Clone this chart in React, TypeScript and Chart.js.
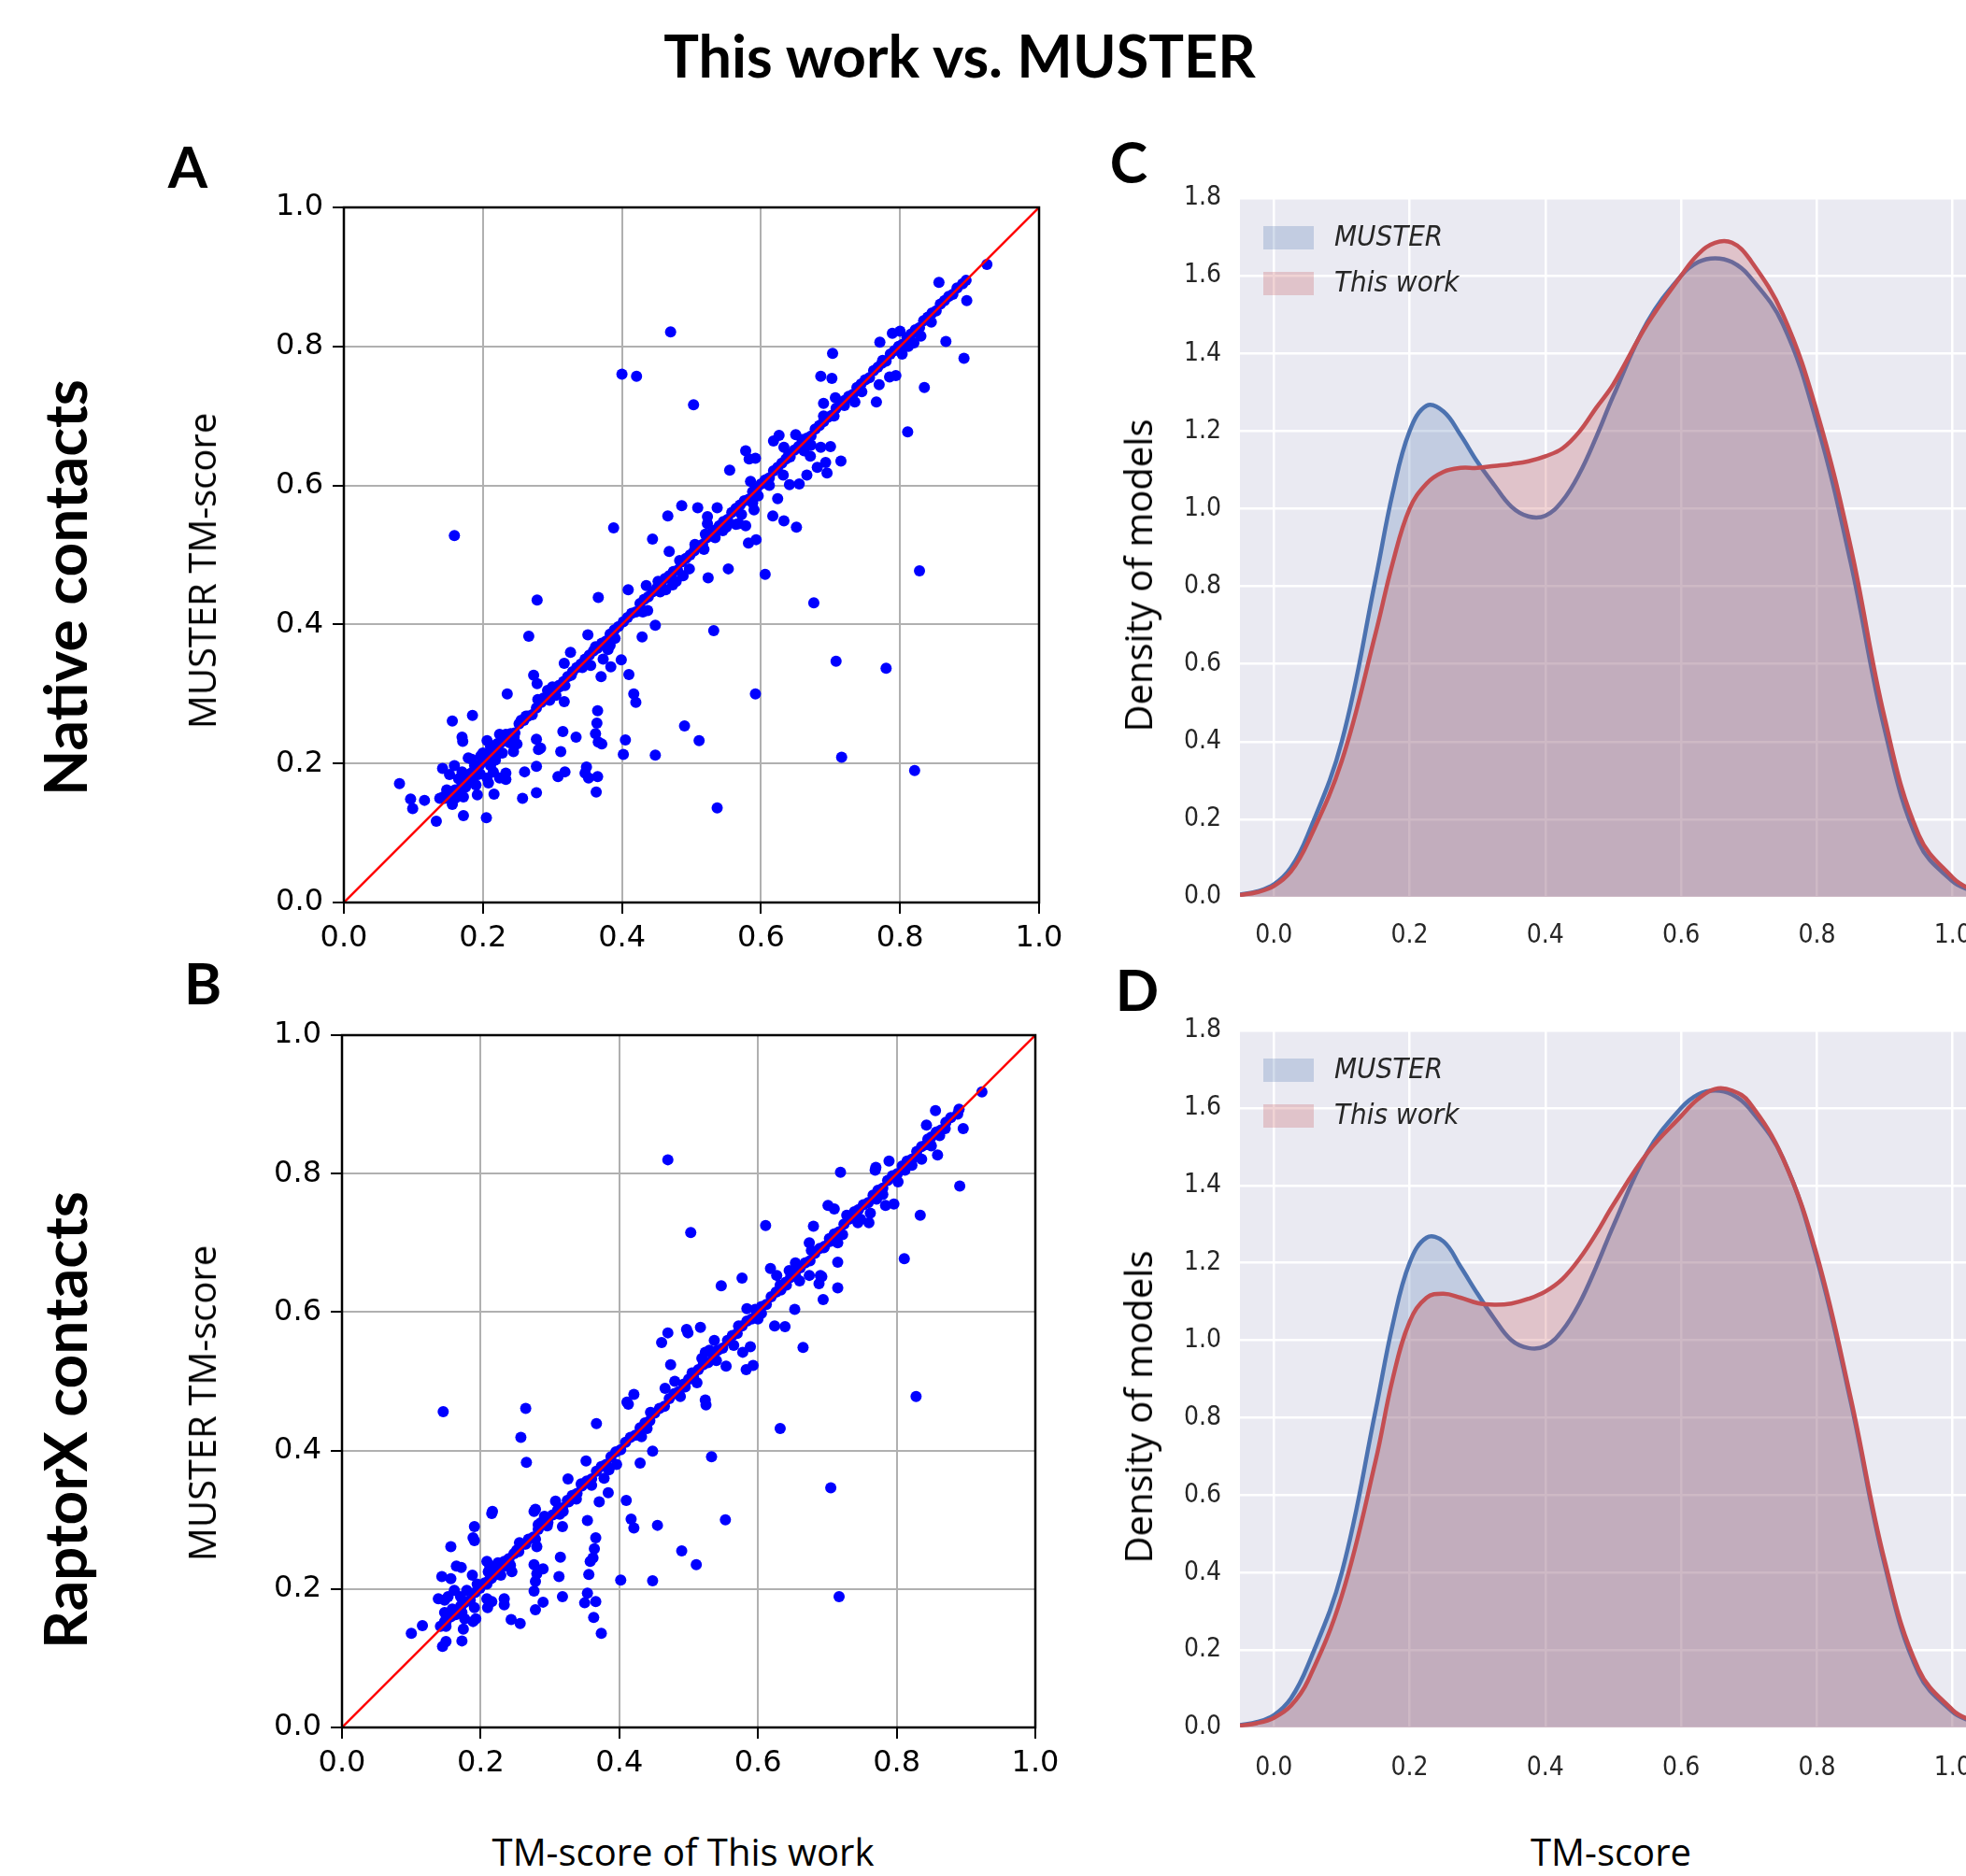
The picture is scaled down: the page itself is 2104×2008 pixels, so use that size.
import React, { useEffect, useRef } from "react";
import { Chart, registerables } from "chart.js";

Chart.register(...registerables);

// ---------------- text ----------------
const FIG_TITLE = "This work vs. MUSTER";
const ROW_LABELS = ["Native contacts", "RaptorX contacts"];
const SCATTER_X_TITLE = "TM-score of This work";
const SCATTER_Y_TITLE = "MUSTER TM-score";
const DENSITY_X_TITLE = "TM-score";
const DENSITY_Y_TITLE = "Density of models";
const SERIES_NAMES = ["MUSTER", "This work"];

// ---------------- scatter data: [TM-score of This work, MUSTER TM-score] ----------------
const diagonalLineX = [0, 1];
const diagonalLineY = [0, 1];

const panelAOffDiagonal: [number, number][] = [
  [0.080, 0.171], [0.096, 0.149], [0.099, 0.135], [0.116, 0.147], [0.133, 0.117], [0.138, 0.150], [0.143, 0.152],
  [0.148, 0.162], [0.150, 0.158], [0.156, 0.141], [0.160, 0.150], [0.165, 0.178], [0.166, 0.159], [0.172, 0.125],
  [0.172, 0.152], [0.175, 0.166], [0.176, 0.172], [0.186, 0.178], [0.190, 0.169], [0.192, 0.155], [0.196, 0.185],
  [0.205, 0.122], [0.142, 0.193], [0.152, 0.184], [0.159, 0.197], [0.170, 0.188], [0.179, 0.208], [0.184, 0.206],
  [0.188, 0.197], [0.193, 0.184], [0.197, 0.211], [0.200, 0.215], [0.206, 0.179], [0.206, 0.233], [0.208, 0.172],
  [0.211, 0.197], [0.211, 0.224], [0.215, 0.188], [0.216, 0.156], [0.218, 0.205], [0.220, 0.228], [0.224, 0.179],
  [0.224, 0.242], [0.225, 0.215], [0.228, 0.215], [0.229, 0.240], [0.233, 0.177], [0.233, 0.186], [0.233, 0.242],
  [0.238, 0.230], [0.244, 0.217], [0.245, 0.238], [0.249, 0.228], [0.257, 0.150], [0.260, 0.188], [0.277, 0.158],
  [0.277, 0.196], [0.156, 0.261], [0.159, 0.528], [0.170, 0.238], [0.171, 0.232], [0.185, 0.269], [0.235, 0.300],
  [0.266, 0.383], [0.278, 0.435], [0.273, 0.327], [0.278, 0.315], [0.277, 0.235], [0.279, 0.292], [0.280, 0.220],
  [0.283, 0.222], [0.287, 0.294], [0.293, 0.305], [0.296, 0.291], [0.308, 0.181], [0.309, 0.312], [0.312, 0.217],
  [0.315, 0.246], [0.317, 0.289], [0.317, 0.344], [0.318, 0.188], [0.318, 0.312], [0.326, 0.360], [0.327, 0.327],
  [0.334, 0.238], [0.347, 0.186], [0.349, 0.195], [0.351, 0.385], [0.352, 0.179], [0.355, 0.341], [0.362, 0.243],
  [0.363, 0.159], [0.364, 0.258], [0.365, 0.181], [0.365, 0.276], [0.366, 0.231], [0.366, 0.439], [0.370, 0.325],
  [0.371, 0.228], [0.373, 0.350], [0.384, 0.339], [0.388, 0.539], [0.399, 0.349], [0.400, 0.760], [0.402, 0.213],
  [0.405, 0.234], [0.409, 0.450], [0.410, 0.328], [0.417, 0.300], [0.420, 0.288], [0.421, 0.757], [0.429, 0.382],
  [0.435, 0.456], [0.444, 0.523], [0.448, 0.212], [0.448, 0.399], [0.466, 0.556], [0.470, 0.821], [0.486, 0.571],
  [0.490, 0.254], [0.503, 0.716], [0.509, 0.568], [0.511, 0.233], [0.523, 0.555], [0.524, 0.467], [0.532, 0.391],
  [0.534, 0.525], [0.537, 0.136], [0.537, 0.568], [0.553, 0.480], [0.555, 0.622], [0.564, 0.544], [0.578, 0.542],
  [0.578, 0.650], [0.582, 0.517], [0.583, 0.638], [0.585, 0.606], [0.592, 0.300], [0.592, 0.639], [0.593, 0.522],
  [0.606, 0.472], [0.617, 0.556], [0.618, 0.664], [0.624, 0.581], [0.626, 0.672], [0.633, 0.549], [0.633, 0.655],
  [0.641, 0.601], [0.650, 0.673], [0.651, 0.540], [0.655, 0.602], [0.659, 0.666], [0.666, 0.615], [0.671, 0.642],
  [0.676, 0.431], [0.681, 0.626], [0.686, 0.655], [0.686, 0.757], [0.690, 0.718], [0.693, 0.633], [0.695, 0.618],
  [0.700, 0.656], [0.702, 0.754], [0.703, 0.790], [0.707, 0.726], [0.708, 0.347], [0.715, 0.635], [0.716, 0.209],
  [0.766, 0.720], [0.771, 0.806], [0.780, 0.337], [0.785, 0.756], [0.789, 0.819], [0.794, 0.758], [0.800, 0.822],
  [0.803, 0.789], [0.811, 0.677], [0.821, 0.190], [0.828, 0.477], [0.835, 0.741], [0.856, 0.892], [0.866, 0.807],
  [0.890, 0.890], [0.892, 0.783], [0.895, 0.895], [0.896, 0.866], [0.925, 0.918],
];

const panelADiagonal: [number, number][] = [
  [0.145, 0.150], [0.152, 0.155], [0.160, 0.162], [0.168, 0.165], [0.176, 0.180], [0.183, 0.186], [0.190, 0.192],
  [0.196, 0.199], [0.203, 0.205], [0.210, 0.212], [0.218, 0.220], [0.226, 0.230], [0.232, 0.236], [0.240, 0.243],
  [0.246, 0.244], [0.252, 0.257], [0.259, 0.262], [0.265, 0.268], [0.271, 0.270], [0.277, 0.280], [0.284, 0.288],
  [0.290, 0.293], [0.297, 0.300], [0.303, 0.306], [0.310, 0.310], [0.316, 0.318], [0.322, 0.325], [0.329, 0.332],
  [0.335, 0.338], [0.341, 0.343], [0.347, 0.350], [0.353, 0.356], [0.359, 0.362], [0.365, 0.366], [0.371, 0.373],
  [0.377, 0.376], [0.383, 0.386], [0.389, 0.392], [0.395, 0.397], [0.402, 0.404], [0.408, 0.410], [0.414, 0.416],
  [0.420, 0.418], [0.426, 0.430], [0.432, 0.436], [0.438, 0.440], [0.444, 0.447], [0.450, 0.452], [0.456, 0.458],
  [0.462, 0.466], [0.468, 0.470], [0.474, 0.476], [0.480, 0.478], [0.486, 0.490], [0.492, 0.495], [0.498, 0.500],
  [0.504, 0.506], [0.510, 0.512], [0.516, 0.515], [0.522, 0.525], [0.528, 0.531], [0.534, 0.536], [0.540, 0.542],
  [0.546, 0.548], [0.552, 0.551], [0.558, 0.561], [0.564, 0.567], [0.570, 0.572], [0.576, 0.578], [0.582, 0.580],
  [0.588, 0.591], [0.594, 0.596], [0.600, 0.602], [0.606, 0.608], [0.612, 0.611], [0.618, 0.621], [0.624, 0.626],
  [0.630, 0.632], [0.636, 0.638], [0.642, 0.641], [0.648, 0.651], [0.654, 0.656], [0.660, 0.662], [0.666, 0.668],
  [0.672, 0.671], [0.678, 0.681], [0.684, 0.686], [0.690, 0.692], [0.696, 0.698], [0.702, 0.701], [0.708, 0.711],
  [0.714, 0.716], [0.720, 0.722], [0.726, 0.728], [0.732, 0.731], [0.738, 0.741], [0.744, 0.746], [0.750, 0.752],
  [0.756, 0.755], [0.762, 0.765], [0.768, 0.770], [0.774, 0.776], [0.780, 0.779], [0.786, 0.789], [0.792, 0.794],
  [0.798, 0.800], [0.804, 0.803], [0.810, 0.813], [0.816, 0.818], [0.822, 0.824], [0.828, 0.827], [0.834, 0.837],
  [0.840, 0.842], [0.846, 0.848], [0.852, 0.851], [0.858, 0.861], [0.864, 0.866], [0.870, 0.872], [0.876, 0.875],
  [0.882, 0.884],
  [0.468, 0.505], [0.483, 0.492], [0.488, 0.470], [0.478, 0.462], [0.497, 0.480], [0.505, 0.515], [0.520, 0.530],
  [0.523, 0.545], [0.518, 0.508], [0.545, 0.535], [0.550, 0.540], [0.572, 0.558], [0.568, 0.545], [0.590, 0.565],
  [0.588, 0.575], [0.596, 0.585], [0.612, 0.600], [0.632, 0.615], [0.640, 0.645], [0.662, 0.650], [0.672, 0.658],
  [0.690, 0.700], [0.705, 0.700], [0.720, 0.715], [0.735, 0.720], [0.745, 0.735], [0.770, 0.745], [0.775, 0.780],
  [0.812, 0.800], [0.820, 0.805], [0.830, 0.815], [0.845, 0.835], [0.437, 0.420], [0.430, 0.418], [0.452, 0.462],
  [0.455, 0.447], [0.463, 0.450], [0.473, 0.457], [0.380, 0.364], [0.383, 0.370], [0.390, 0.380], [0.362, 0.368],
  [0.343, 0.338], [0.300, 0.310], [0.305, 0.298], [0.262, 0.268], [0.255, 0.262],
];

const panelBOffDiagonal: [number, number][] = [
  [0.100, 0.136], [0.116, 0.147], [0.145, 0.117], [0.150, 0.124], [0.173, 0.125], [0.139, 0.186], [0.148, 0.184],
  [0.153, 0.189], [0.162, 0.198], [0.171, 0.189], [0.180, 0.198], [0.195, 0.207], [0.173, 0.166], [0.177, 0.157],
  [0.175, 0.142], [0.189, 0.153], [0.193, 0.157], [0.191, 0.173], [0.173, 0.177], [0.159, 0.171], [0.148, 0.166],
  [0.148, 0.153], [0.150, 0.146], [0.144, 0.218], [0.157, 0.215], [0.165, 0.233], [0.172, 0.231], [0.188, 0.220],
  [0.157, 0.261], [0.189, 0.274], [0.191, 0.270], [0.191, 0.290], [0.146, 0.456], [0.209, 0.240], [0.213, 0.234],
  [0.220, 0.229], [0.225, 0.238], [0.229, 0.220], [0.216, 0.216], [0.209, 0.207], [0.211, 0.225], [0.210, 0.173],
  [0.216, 0.182], [0.209, 0.186], [0.234, 0.186], [0.234, 0.177], [0.244, 0.156], [0.257, 0.150], [0.217, 0.312],
  [0.216, 0.309], [0.243, 0.234], [0.245, 0.225], [0.234, 0.240], [0.240, 0.243], [0.256, 0.267], [0.265, 0.265],
  [0.252, 0.256], [0.279, 0.272], [0.281, 0.261], [0.265, 0.461], [0.258, 0.419], [0.266, 0.383], [0.277, 0.235],
  [0.290, 0.229], [0.281, 0.222], [0.279, 0.211], [0.277, 0.197], [0.290, 0.181], [0.279, 0.170], [0.279, 0.315],
  [0.277, 0.312], [0.292, 0.305], [0.287, 0.296], [0.296, 0.291], [0.283, 0.293], [0.308, 0.327], [0.327, 0.326],
  [0.319, 0.312], [0.314, 0.308], [0.318, 0.290], [0.313, 0.218], [0.315, 0.246], [0.318, 0.189], [0.326, 0.359],
  [0.352, 0.385], [0.354, 0.299], [0.354, 0.194], [0.350, 0.180], [0.356, 0.221], [0.358, 0.240], [0.362, 0.245],
  [0.364, 0.258], [0.366, 0.274], [0.366, 0.182], [0.363, 0.159], [0.374, 0.136], [0.371, 0.326], [0.384, 0.339],
  [0.367, 0.439], [0.402, 0.213], [0.410, 0.328], [0.417, 0.301], [0.421, 0.288], [0.430, 0.382], [0.411, 0.470],
  [0.413, 0.467], [0.421, 0.481], [0.448, 0.399], [0.448, 0.212], [0.455, 0.292], [0.490, 0.255], [0.511, 0.235],
  [0.533, 0.391], [0.553, 0.300], [0.461, 0.556], [0.470, 0.570], [0.470, 0.820], [0.474, 0.524], [0.497, 0.575],
  [0.499, 0.570], [0.503, 0.715], [0.517, 0.578], [0.519, 0.533], [0.524, 0.542], [0.524, 0.473], [0.525, 0.466],
  [0.537, 0.559], [0.547, 0.638], [0.554, 0.522], [0.577, 0.649], [0.578, 0.542], [0.583, 0.517], [0.584, 0.605],
  [0.589, 0.550], [0.593, 0.523], [0.596, 0.604], [0.611, 0.725], [0.624, 0.580], [0.632, 0.432], [0.639, 0.579],
  [0.653, 0.604], [0.665, 0.549], [0.680, 0.724], [0.688, 0.641], [0.690, 0.653], [0.692, 0.651], [0.694, 0.618],
  [0.701, 0.754], [0.705, 0.346], [0.710, 0.749], [0.715, 0.672], [0.715, 0.635], [0.717, 0.189], [0.719, 0.802],
  [0.769, 0.805], [0.770, 0.809], [0.784, 0.754], [0.789, 0.818], [0.796, 0.756], [0.802, 0.788], [0.811, 0.677],
  [0.828, 0.478], [0.834, 0.740], [0.836, 0.821], [0.843, 0.870], [0.856, 0.891], [0.859, 0.827], [0.888, 0.886],
  [0.890, 0.893], [0.891, 0.782], [0.896, 0.865], [0.923, 0.918],
];

const panelBDiagonal: [number, number][] = [
  [0.142, 0.146], [0.150, 0.152], [0.157, 0.160], [0.164, 0.163], [0.171, 0.175], [0.178, 0.181], [0.185, 0.184],
  [0.192, 0.195], [0.199, 0.201], [0.206, 0.209], [0.213, 0.214], [0.220, 0.223], [0.227, 0.230], [0.234, 0.233],
  [0.241, 0.244], [0.248, 0.251], [0.255, 0.254], [0.262, 0.265], [0.269, 0.272], [0.276, 0.275], [0.283, 0.286],
  [0.290, 0.293], [0.297, 0.296], [0.304, 0.307], [0.311, 0.314], [0.318, 0.317], [0.325, 0.328], [0.332, 0.335],
  [0.339, 0.338], [0.346, 0.349], [0.353, 0.356], [0.360, 0.359], [0.367, 0.370], [0.374, 0.377], [0.381, 0.380],
  [0.388, 0.391], [0.395, 0.398], [0.402, 0.401], [0.409, 0.412], [0.416, 0.419], [0.423, 0.422], [0.430, 0.433],
  [0.437, 0.440], [0.444, 0.443], [0.451, 0.454], [0.458, 0.461], [0.465, 0.464], [0.472, 0.475], [0.479, 0.482],
  [0.486, 0.485], [0.493, 0.496], [0.500, 0.503], [0.507, 0.506], [0.514, 0.517], [0.521, 0.524], [0.528, 0.527],
  [0.535, 0.538], [0.542, 0.545], [0.549, 0.548], [0.556, 0.559], [0.563, 0.566], [0.570, 0.569], [0.577, 0.580],
  [0.584, 0.587], [0.591, 0.590], [0.598, 0.601], [0.605, 0.608], [0.612, 0.611], [0.619, 0.622], [0.626, 0.629],
  [0.633, 0.632], [0.640, 0.643], [0.647, 0.650], [0.654, 0.653], [0.661, 0.664], [0.668, 0.671], [0.675, 0.674],
  [0.682, 0.685], [0.689, 0.692], [0.696, 0.695], [0.703, 0.706], [0.710, 0.713], [0.717, 0.716], [0.724, 0.727],
  [0.731, 0.734], [0.738, 0.737], [0.745, 0.748], [0.752, 0.755], [0.759, 0.758], [0.766, 0.769], [0.773, 0.776],
  [0.780, 0.779], [0.787, 0.790], [0.794, 0.797], [0.801, 0.800], [0.808, 0.811], [0.815, 0.818], [0.822, 0.821],
  [0.829, 0.832], [0.836, 0.839], [0.843, 0.842], [0.850, 0.853], [0.857, 0.860], [0.864, 0.863], [0.871, 0.874],
  [0.878, 0.881],
  [0.674, 0.700], [0.677, 0.689], [0.695, 0.693], [0.704, 0.702], [0.713, 0.707], [0.715, 0.700], [0.674, 0.653],
  [0.654, 0.671], [0.650, 0.657], [0.641, 0.639], [0.632, 0.639], [0.627, 0.653], [0.618, 0.663], [0.780, 0.770],
  [0.771, 0.763], [0.762, 0.743], [0.760, 0.729], [0.748, 0.734], [0.739, 0.745], [0.744, 0.729], [0.466, 0.490],
  [0.480, 0.500], [0.488, 0.478], [0.495, 0.492], [0.505, 0.512], [0.512, 0.498], [0.530, 0.545], [0.540, 0.530],
  [0.565, 0.552], [0.572, 0.580], [0.600, 0.590], [0.605, 0.598], [0.645, 0.660], [0.660, 0.645], [0.722, 0.712],
  [0.728, 0.740], [0.812, 0.805], [0.822, 0.812], [0.845, 0.850], [0.850, 0.840], [0.862, 0.855], [0.870, 0.865],
  [0.440, 0.432], [0.445, 0.455], [0.432, 0.420], [0.396, 0.380], [0.385, 0.372], [0.378, 0.360], [0.360, 0.350],
  [0.345, 0.352], [0.338, 0.330],
];

// ---------------- density (KDE) data ----------------
const densityX = [
  -0.05, -0.025, 0.0, 0.025, 0.05, 0.1, 0.15, 0.175, 0.2, 0.225, 0.25, 0.275, 0.3, 0.325, 0.35, 0.375, 0.4, 0.425,
  0.45, 0.475, 0.5, 0.55, 0.6, 0.625, 0.65, 0.675, 0.7, 0.75, 0.8, 0.85, 0.9, 0.95, 1.0, 1.025, 1.05,
];
const densityCMuster = [
  0.006, 0.014, 0.032, 0.075, 0.16, 0.40, 0.82, 1.04, 1.20, 1.265, 1.25, 1.19, 1.12, 1.06, 1.005, 0.98, 0.982, 1.02,
  1.09, 1.185, 1.29, 1.48, 1.60, 1.635, 1.645, 1.635, 1.60, 1.475, 1.22, 0.86, 0.43, 0.14, 0.04, 0.018, 0.007,
];
const densityCThisWork = [
  0.005, 0.012, 0.028, 0.065, 0.14, 0.35, 0.68, 0.86, 1.00, 1.065, 1.095, 1.105, 1.105, 1.11, 1.115, 1.122, 1.135, 1.155,
  1.198, 1.26, 1.32, 1.475, 1.60, 1.655, 1.685, 1.685, 1.645, 1.50, 1.25, 0.90, 0.46, 0.16, 0.05, 0.021, 0.008,
];
const densityDMuster = [
  0.006, 0.014, 0.032, 0.075, 0.16, 0.40, 0.82, 1.04, 1.20, 1.265, 1.255, 1.19, 1.12, 1.055, 1.0, 0.98, 0.985, 1.025,
  1.095, 1.19, 1.295, 1.485, 1.60, 1.635, 1.645, 1.635, 1.60, 1.47, 1.21, 0.84, 0.42, 0.14, 0.04, 0.018, 0.007,
];
const densityDThisWork = [
  0.005, 0.011, 0.025, 0.056, 0.12, 0.34, 0.69, 0.90, 1.048, 1.11, 1.12, 1.11, 1.096, 1.092, 1.095, 1.107, 1.126, 1.158,
  1.21, 1.276, 1.35, 1.483, 1.579, 1.623, 1.649, 1.645, 1.615, 1.47, 1.22, 0.85, 0.43, 0.15, 0.045, 0.02, 0.008,
];

// ---------------- styling ----------------
const BLUE_LINE = "#4C72B0";
const RED_LINE = "#C44E52";
const BLUE_FILL = "rgba(76,114,176,0.25)";
const RED_FILL = "rgba(196,78,82,0.25)";
const DARKGRID_BG = "#EAEAF2";
const NARROW = '"Liberation Sans Narrow", "DejaVu Sans Condensed", "Arial Narrow", sans-serif';

const framePlugin = {
  id: "frame",
  afterDatasetsDraw(chart: any) {
    const { ctx, chartArea: a } = chart;
    ctx.save();
    ctx.strokeStyle = "#000";
    ctx.lineWidth = 2.5;
    ctx.strokeRect(a.left, a.top, a.right - a.left, a.bottom - a.top);
    ctx.restore();
  },
};

const darkgridPlugin = {
  id: "darkgrid",
  beforeDraw(chart: any) {
    const { ctx, chartArea: a } = chart;
    ctx.save();
    ctx.fillStyle = DARKGRID_BG;
    ctx.fillRect(a.left, a.top, a.right - a.left, a.bottom - a.top);
    ctx.restore();
  },
};

const kdeLegendPlugin = {
  id: "kdeLegend",
  afterDraw(chart: any) {
    const { ctx, chartArea: a } = chart;
    const fills = [BLUE_FILL, RED_FILL];
    ctx.save();
    SERIES_NAMES.forEach((name, i) => {
      const top = a.top + 30 + i * 49;
      ctx.fillStyle = fills[i];
      ctx.fillRect(a.left + 25, top, 54, 25);
      ctx.fillStyle = "#262626";
      ctx.font = `italic 31px ${NARROW}`;
      ctx.textBaseline = "middle";
      ctx.textAlign = "left";
      ctx.fillText(name, a.left + 101, top + 13);
    });
    ctx.restore();
  },
};

function ScatterPanel(props: {
  offDiag: [number, number][];
  diag: [number, number][];
  left: number;
  top: number;
  width: number;
  height: number;
  yAxisWidth: number;
}) {
  const ref = useRef<HTMLCanvasElement | null>(null);
  useEffect(() => {
    if (!ref.current) return;
    const pts = [...props.offDiag, ...props.diag].map(([x, y]) => ({ x, y }));
    const tickFont = { family: '"DejaVu Sans", sans-serif', size: 32 };
    const fmt = (v: any) => Number(v).toFixed(1);
    const chart = new Chart(ref.current, {
      type: "scatter",
      data: {
        datasets: [
          {
            label: "y = x",
            data: diagonalLineX.map((x, i) => ({ x, y: diagonalLineY[i] })),
            showLine: true,
            borderColor: "#ff0000",
            borderWidth: 2.5,
            pointRadius: 0,
            order: 0,
          } as any,
          {
            label: "Models",
            data: pts,
            pointRadius: 6,
            backgroundColor: "#0000ff",
            pointBackgroundColor: "#0000ff",
            borderWidth: 0,
            pointBorderWidth: 0,
            order: 1,
          } as any,
        ],
      },
      options: {
        responsive: false,
        animation: false,
        events: [],
        layout: { padding: { top: 32, right: 40, left: 0, bottom: 0 } },
        plugins: { legend: { display: false }, tooltip: { enabled: false } },
        scales: {
          x: {
            type: "linear",
            min: 0,
            max: 1,
            ticks: { stepSize: 0.2, callback: fmt, font: tickFont, color: "#000", padding: 7, maxRotation: 0, autoSkip: false },
            grid: { color: "#b0b0b0", lineWidth: 2, tickColor: "#000", tickLength: 12, tickWidth: 2 },
            border: { display: false },
            afterFit: (s: any) => {
              s.height = 60;
            },
          } as any,
          y: {
            type: "linear",
            min: 0,
            max: 1,
            ticks: { stepSize: 0.2, callback: fmt, font: tickFont, color: "#000", padding: 10, autoSkip: false },
            grid: { color: "#b0b0b0", lineWidth: 2, tickColor: "#000", tickLength: 12, tickWidth: 2 },
            border: { display: false },
            afterFit: (s: any) => {
              s.width = props.yAxisWidth;
            },
          } as any,
        },
      },
      plugins: [framePlugin],
    });
    return () => chart.destroy();
  }, []);
  return (
    <canvas
      ref={ref}
      width={props.width}
      height={props.height}
      style={{ position: "absolute", left: props.left, top: props.top, width: props.width, height: props.height }}
    />
  );
}

function DensityPanel(props: {
  muster: number[];
  thisWork: number[];
  left: number;
  top: number;
  width: number;
  height: number;
  xTickPad: number;
}) {
  const ref = useRef<HTMLCanvasElement | null>(null);
  useEffect(() => {
    if (!ref.current) return;
    const tickFont = { family: NARROW, size: 28 };
    const fmt = (v: any) => Number(v).toFixed(1);
    const chart = new Chart(ref.current, {
      type: "line",
      data: {
        datasets: [
          {
            label: SERIES_NAMES[0],
            data: densityX.map((x, i) => ({ x, y: props.muster[i] })),
            borderColor: BLUE_LINE,
            backgroundColor: BLUE_FILL,
            fill: "origin",
            borderWidth: 4.5,
            pointRadius: 0,
            tension: 0.4,
            capBezierPoints: false,
            order: 1,
          } as any,
          {
            label: SERIES_NAMES[1],
            data: densityX.map((x, i) => ({ x, y: props.thisWork[i] })),
            borderColor: RED_LINE,
            backgroundColor: RED_FILL,
            fill: "origin",
            borderWidth: 4.5,
            pointRadius: 0,
            tension: 0.4,
            capBezierPoints: false,
            order: 0,
          } as any,
        ],
      },
      options: {
        responsive: false,
        animation: false,
        events: [],
        layout: { padding: { top: 62, right: 30, left: 0, bottom: 0 } },
        elements: { line: { capBezierPoints: false } },
        plugins: { legend: { display: false }, tooltip: { enabled: false } },
        scales: {
          x: {
            type: "linear",
            min: -0.05,
            max: 1.05,
            ticks: { stepSize: 0.2, includeBounds: false, callback: fmt, font: tickFont, color: "#262626", padding: props.xTickPad, maxRotation: 0, autoSkip: false },
            grid: { color: "#ffffff", lineWidth: 2.5, drawTicks: false },
            border: { display: false },
            afterFit: (s: any) => {
              s.height = 70;
            },
          } as any,
          y: {
            type: "linear",
            min: 0,
            max: 1.8,
            ticks: { stepSize: 0.2, callback: fmt, font: tickFont, color: "#262626", padding: 20, autoSkip: false },
            grid: { color: "#ffffff", lineWidth: 2.5, drawTicks: false },
            border: { display: false },
            afterFit: (s: any) => {
              s.width = 132;
            },
          } as any,
        },
      },
      plugins: [darkgridPlugin, kdeLegendPlugin],
    });
    return () => chart.destroy();
  }, []);
  return (
    <canvas
      ref={ref}
      width={props.width}
      height={props.height}
      style={{ position: "absolute", left: props.left, top: props.top, width: props.width, height: props.height }}
    />
  );
}

const LATO = 'Lato, "Open Sans", sans-serif';
const OPEN = '"Open Sans", "Noto Sans", sans-serif';

function HText(p: { text: string; cx: number; baseline: number; size: number; family: string; weight?: number; k?: number }) {
  const k = p.k ?? 0.888;
  return (
    <div
      style={{
        position: "absolute",
        left: p.cx,
        top: p.baseline - k * p.size,
        transform: "translateX(-50%)",
        fontFamily: p.family,
        fontSize: p.size,
        fontWeight: p.weight ?? 400,
        lineHeight: 1,
        whiteSpace: "nowrap",
        color: "#000",
      }}
    >
      {p.text}
    </div>
  );
}

function VText(p: { text: string; cx: number; cy: number; size: number; family: string; weight?: number }) {
  return (
    <div
      style={{
        position: "absolute",
        left: p.cx,
        top: p.cy,
        transform: "translate(-50%, -50%) rotate(-90deg)",
        fontFamily: p.family,
        fontSize: p.size,
        fontWeight: p.weight ?? 400,
        lineHeight: 1,
        whiteSpace: "nowrap",
        color: "#000",
      }}
    >
      {p.text}
    </div>
  );
}

export default function App() {
  return (
    <div
      style={{
        position: "fixed",
        left: 0,
        top: 0,
        width: 2104,
        height: 2008,
        overflow: "hidden",
        background: "#ffffff",
      }}
    >
      <ScatterPanel offDiag={panelAOffDiagonal} diag={panelADiagonal} left={130} top={190} width={1022} height={836} yAxisWidth={238} />
      <ScatterPanel offDiag={panelBOffDiagonal} diag={panelBDiagonal} left={130} top={1076} width={1018} height={833} yAxisWidth={236} />
      <DensityPanel muster={densityCMuster} thisWork={densityCThisWork} left={1195} top={150} width={961} height={880} xTickPad={25} />
      <DensityPanel muster={densityDMuster} thisWork={densityDThisWork} left={1195} top={1041} width={961} height={878} xTickPad={27} />

      <HText text={FIG_TITLE} cx={1027} baseline={83} size={63} family={LATO} weight={700} k={0.887} />
      <HText text="A" cx={201} baseline={201} size={61} family={LATO} weight={700} k={0.887} />
      <HText text="B" cx={217} baseline={1075} size={61} family={LATO} weight={700} k={0.887} />
      <HText text="C" cx={1208} baseline={196} size={61} family={LATO} weight={700} k={0.887} />
      <HText text="D" cx={1217} baseline={1082} size={61} family={LATO} weight={700} k={0.887} />

      <VText text={ROW_LABELS[0]} cx={69} cy={629} size={64} family={LATO} weight={700} />
      <VText text={ROW_LABELS[1]} cx={69} cy={1520} size={64} family={LATO} weight={700} />

      <VText text={SCATTER_Y_TITLE} cx={216} cy={611} size={40} family={OPEN} />
      <VText text={SCATTER_Y_TITLE} cx={216} cy={1502} size={40} family={OPEN} />
      <VText text={DENSITY_Y_TITLE} cx={1218} cy={616} size={40} family={OPEN} />
      <VText text={DENSITY_Y_TITLE} cx={1218} cy={1506} size={40} family={OPEN} />

      <HText text={SCATTER_X_TITLE} cx={731} baseline={1998} size={40} family={OPEN} />
      <HText text={DENSITY_X_TITLE} cx={1724} baseline={1998} size={40} family={OPEN} />
    </div>
  );
}
